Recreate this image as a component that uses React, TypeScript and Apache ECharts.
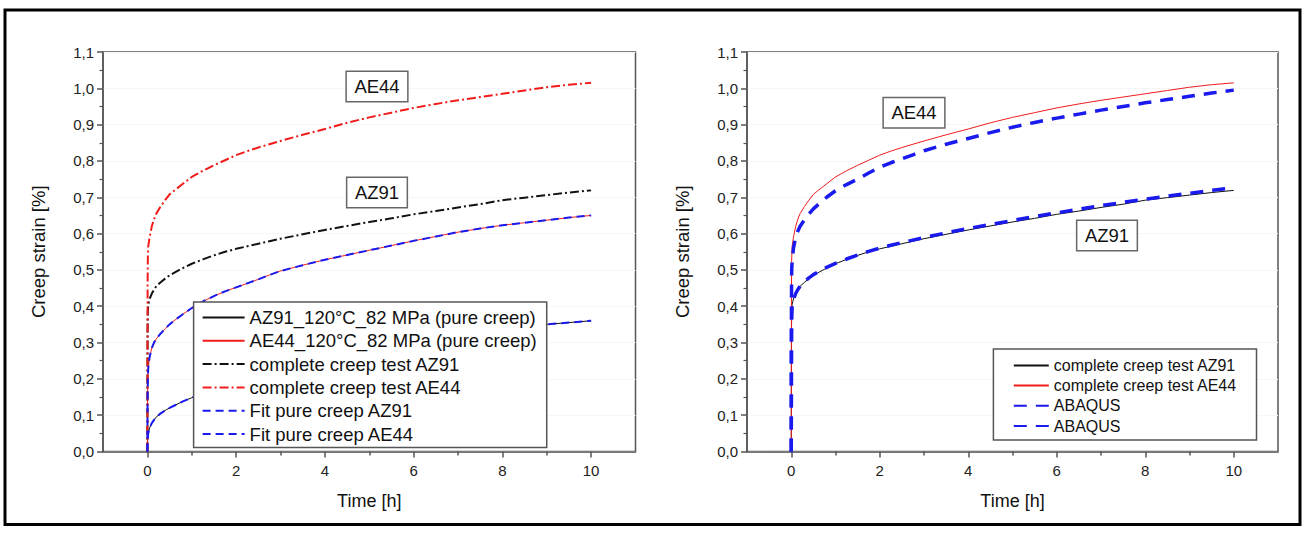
import React, { useEffect, useRef } from 'react';
import * as echarts from 'echarts';

// Time grid [h] shared by all curves
const hours = [0, 0.005, 0.01, 0.02, 0.05, 0.1, 0.15, 0.2, 0.3, 0.4, 0.5, 0.6, 0.8, 1, 1.25, 1.5, 1.75, 2, 2.25, 2.5, 2.75, 3, 3.5, 4, 4.5, 5, 5.5, 6, 6.5, 7, 7.5, 8, 8.5, 9, 9.5, 10];

// Creep strain [%]
const pureAZ91 = [0, 0.025, 0.04, 0.05, 0.065, 0.078, 0.087, 0.095, 0.105, 0.113, 0.12, 0.126, 0.138, 0.148, 0.16, 0.17, 0.18, 0.19, 0.198, 0.206, 0.214, 0.222, 0.237, 0.25, 0.262, 0.274, 0.285, 0.295, 0.305, 0.315, 0.324, 0.333, 0.342, 0.35, 0.355, 0.36];
const pureAE44 = [0, 0.15, 0.2, 0.23, 0.26, 0.285, 0.3, 0.31, 0.325, 0.338, 0.35, 0.36, 0.378, 0.395, 0.413, 0.428, 0.441, 0.452, 0.463, 0.474, 0.486, 0.497, 0.513, 0.528, 0.541, 0.554, 0.567, 0.58, 0.592, 0.604, 0.614, 0.623, 0.63, 0.637, 0.644, 0.65];
const fitAZ91 = pureAZ91;
const fitAE44 = pureAE44;
const completeAZ91 = [0, 0.33, 0.385, 0.405, 0.42, 0.435, 0.445, 0.455, 0.466, 0.476, 0.485, 0.492, 0.505, 0.517, 0.529, 0.54, 0.55, 0.558, 0.565, 0.572, 0.579, 0.586, 0.598, 0.61, 0.621, 0.632, 0.642, 0.653, 0.662, 0.672, 0.681, 0.692, 0.699, 0.706, 0.713, 0.719];
const completeAE44 = [0, 0.45, 0.53, 0.565, 0.59, 0.62, 0.64, 0.655, 0.675, 0.692, 0.708, 0.718, 0.737, 0.756, 0.773, 0.788, 0.802, 0.816, 0.827, 0.837, 0.846, 0.855, 0.872, 0.888, 0.905, 0.92, 0.933, 0.946, 0.957, 0.967, 0.976, 0.985, 0.994, 1.003, 1.01, 1.015];
const abaqusAE44 = [0, 0.42, 0.5, 0.525, 0.56, 0.59, 0.607, 0.62, 0.638, 0.654, 0.668, 0.679, 0.7, 0.718, 0.735, 0.75, 0.767, 0.783, 0.795, 0.806, 0.817, 0.828, 0.846, 0.862, 0.878, 0.893, 0.906, 0.918, 0.929, 0.94, 0.95, 0.96, 0.969, 0.978, 0.987, 0.995];
const abaqusAZ91 = [0, 0.3, 0.37, 0.4, 0.418, 0.435, 0.446, 0.455, 0.468, 0.478, 0.487, 0.494, 0.507, 0.518, 0.53, 0.541, 0.551, 0.56, 0.568, 0.575, 0.582, 0.589, 0.602, 0.614, 0.625, 0.636, 0.647, 0.657, 0.667, 0.677, 0.686, 0.695, 0.703, 0.711, 0.719, 0.726];

const xMajorTicks = [0, 2, 4, 6, 8, 10];
const xMinorTicks = [1, 3, 5, 7, 9];

const leftNames = [
  'AZ91_120°C_82 MPa (pure creep)',
  'AE44_120°C_82 MPa (pure creep)',
  'complete creep test AZ91',
  'complete creep test AE44',
  'Fit pure creep AZ91',
  'Fit pure creep AE44',
];
const rightIds = ['right-0', 'right-1', 'right-2', 'right-3'];
const rightLabels = ['complete creep test AZ91', 'complete creep test AE44', 'ABAQUS', 'ABAQUS'];

const FONT = "'Liberation Sans', Arial, Helvetica, sans-serif";
const AXIS = '#555';
const RED = '#f01c1c';
const BLUE = '#1a1aee';
const BLACK = '#111';

const pairs = (vals: number[]) => hours.map((h, i) => [h, vals[i]]);

function xAxes(gridIndex: number) {
  return [
    {
      type: 'value', gridIndex, min: -1, max: 11, interval: 1, position: 'bottom',
      axisLine: { show: true, onZero: false, lineStyle: { color: AXIS, width: 1.5 } },
      axisTick: { show: true, inside: false, length: 6, customValues: xMajorTicks, lineStyle: { color: AXIS, width: 1.5 } },
      axisLabel: { customValues: xMajorTicks, margin: 11, fontSize: 15, color: '#222', fontFamily: FONT },
      splitLine: { show: false },
      name: 'Time [h]', nameLocation: 'middle', nameGap: 40,
      nameTextStyle: { fontSize: 18, color: BLACK, fontFamily: FONT },
    },
    {
      type: 'value', gridIndex, min: -1, max: 11, interval: 1, position: 'bottom',
      axisLine: { show: false, onZero: false },
      axisTick: { show: true, inside: false, length: 4, customValues: xMinorTicks, lineStyle: { color: AXIS, width: 1.5 } },
      axisLabel: { show: false },
      splitLine: { show: false },
    },
  ];
}

function yAxis(gridIndex: number) {
  return {
    type: 'value', gridIndex, min: 0, max: 1.1, interval: 0.1,
    axisLine: { show: true, onZero: false, lineStyle: { color: AXIS, width: 1.5 } },
    axisTick: { show: true, inside: false, length: 6, lineStyle: { color: AXIS, width: 1.5 } },
    minorTick: { show: true, splitNumber: 2, length: 3.5, lineStyle: { color: AXIS, width: 1.2 } },
    axisLabel: {
      margin: 9, fontSize: 15, color: '#222', fontFamily: FONT,
      formatter: (v: number) => v.toFixed(1).replace('.', ','),
    },
    splitLine: { show: true, lineStyle: { color: '#f6f6f6', width: 1 } },
    name: 'Creep strain [%]', nameLocation: 'middle', nameGap: 55,
    nameTextStyle: { fontSize: 18.5, color: BLACK, fontFamily: FONT },
  };
}

function line(name: string, xi: number, yi: number, vals: number[], color: string, width: number, type: any) {
  return {
    type: 'line', name, xAxisIndex: xi, yAxisIndex: yi, data: pairs(vals),
    symbol: 'none', showSymbol: false, silent: true, color,
    lineStyle: { color, width, type },
    emphasis: { disabled: true },
  };
}

function annotation(text: string, x: number, y: number) {
  return {
    type: 'text', x, y, silent: true, z: 10,
    style: {
      text, fontSize: 18.5, fontFamily: FONT, fill: BLACK,
      align: 'center', verticalAlign: 'middle',
      backgroundColor: '#fff', borderColor: '#666', borderWidth: 1.5, padding: [5, 7.5],
    },
  };
}

export default function App() {
  const ref = useRef<HTMLDivElement>(null);
  useEffect(() => {
    if (!ref.current) return;
    const chart = echarts.init(ref.current, undefined, { renderer: 'svg' });
    const dashDot = [9, 3, 2, 3];
    const option: any = {
      animation: false,
      backgroundColor: '#fff',
      grid: [
        { left: 103, top: 52, width: 532.5, height: 399.5, show: true, borderColor: AXIS, borderWidth: 1.5, backgroundColor: 'transparent' },
        { left: 747, top: 52, width: 531, height: 399.5, show: true, borderColor: AXIS, borderWidth: 1.5, backgroundColor: 'transparent' },
      ],
      xAxis: [...xAxes(0), ...xAxes(1)],
      yAxis: [yAxis(0), yAxis(1)],
      legend: [
        {
          data: leftNames, orient: 'vertical', left: 193.6, top: 302,
          itemWidth: 42, itemHeight: 12, itemGap: 4.3, padding: [6, 10, 4, 8],
          backgroundColor: '#fff', borderColor: AXIS, borderWidth: 1.5,
          itemStyle: { opacity: 0 },
          textStyle: { fontSize: 18.5, lineHeight: 19, color: BLACK, fontFamily: FONT },
          selectedMode: false,
        },
        {
          data: rightIds, orient: 'vertical', left: 993.4, top: 349,
          itemWidth: 35, itemHeight: 12, itemGap: 4.2, padding: [8.4, 19.5, 6, 19.4],
          backgroundColor: '#fff', borderColor: AXIS, borderWidth: 1.5,
          itemStyle: { opacity: 0 },
          textStyle: { fontSize: 16, lineHeight: 16, color: BLACK, fontFamily: FONT },
          selectedMode: false,
          formatter: (n: string) => rightLabels[rightIds.indexOf(n)] ?? n,
        },
      ],
      series: [
        line(leftNames[0], 0, 0, pureAZ91, BLACK, 1, 'solid'),
        line(leftNames[1], 0, 0, pureAE44, RED, 1, 'solid'),
        line(leftNames[2], 0, 0, completeAZ91, BLACK, 2, dashDot),
        line(leftNames[3], 0, 0, completeAE44, RED, 2, dashDot),
        line(leftNames[4], 0, 0, fitAZ91, BLUE, 2, [8, 5]),
        line(leftNames[5], 0, 0, fitAE44, BLUE, 2, [8, 5]),
        line(rightIds[0], 2, 1, completeAZ91, BLACK, 1, 'solid'),
        line(rightIds[1], 2, 1, completeAE44, RED, 1, 'solid'),
        line(rightIds[2], 2, 1, abaqusAE44, BLUE, 3.5, [13, 9]),
        line(rightIds[3], 2, 1, abaqusAZ91, BLUE, 3.5, [13, 9]),
      ],
      graphic: [
        { type: 'rect', silent: true, shape: { x: 5, y: 10, width: 1295, height: 514.5 }, style: { fill: 'none', stroke: '#000', lineWidth: 3 } },
        annotation('AE44', 377, 86.5),
        annotation('AZ91', 377, 192.5),
        annotation('AE44', 914, 112.7),
        annotation('AZ91', 1107, 235.5),
      ],
    };
    chart.setOption(option);
    return () => chart.dispose();
  }, []);
  return <div ref={ref} style={{ position: 'absolute', left: 0, top: 0, width: 1307, height: 533 }} />;
}
